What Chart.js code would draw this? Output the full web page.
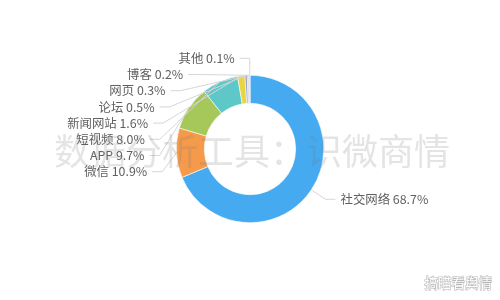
<!DOCTYPE html>
<html>
<head>
<meta charset="utf-8">
<script src="https://cdn.jsdelivr.net/npm/chart.js@4/dist/chart.umd.min.js"></script>
<style>
  html, body { margin: 0; padding: 0; background: #ffffff; }
  #wrap { width: 500px; height: 300px; position: relative; }
</style>
</head>
<body>
<div id="wrap"><canvas id="c" width="500" height="300"></canvas></div>
<script>
const categories = ['社交网络', '微信', 'APP', '短视频', '新闻网站', '论坛', '网页', '博客', '其他'];
const shares = [68.7, 10.9, 9.7, 8.0, 1.6, 0.5, 0.3, 0.2, 0.1];
const sliceColors = ['#45aaf0', '#f59a4a', '#a6c75a', '#5ec8c8', '#e9d444', '#8c9fd0', '#a8a8a8', '#f08080', '#e24a4a'];
const watermarkText = '数据分析工具：识微商情';
const cornerText = '搞瞄看舆情';

const FONT = '"Noto Sans CJK SC", "Noto Sans", sans-serif';

const labelPlugin = {
  id: 'pieLabels',
  afterDatasetsDraw(chart) {
    const ctx = chart.ctx;
    const meta = chart.getDatasetMeta(0);
    const len1 = 17, len2 = 10, gap = 5, lineH = 16.2;
    const items = [];
    meta.data.forEach((arc, i) => {
      const p = arc.getProps(['x', 'y', 'startAngle', 'endAngle', 'outerRadius'], true);
      const mid = (p.startAngle + p.endAngle) / 2;
      const c = Math.cos(mid), s = Math.sin(mid);
      const R = p.outerRadius + len1;
      items.push({
        i, cx: p.x, cy: p.y, R,
        px: p.x + c * p.outerRadius, py: p.y + s * p.outerRadius,
        ey: p.y + s * R, right: c >= 0
      });
    });
    ['left', 'right'].forEach(side => {
      const group = items.filter(it => (side === 'right') === it.right).sort((a, b) => a.ey - b.ey);
      for (let k = 1; k < group.length; k++) {
        if (group[k].ey < group[k - 1].ey + lineH) group[k].ey = group[k - 1].ey + lineH;
      }
    });
    ctx.save();
    ctx.font = '12.4px ' + FONT;
    ctx.textBaseline = 'middle';
    items.forEach(it => {
      const dy = it.ey - it.cy;
      const dx = Math.sqrt(Math.max(0, it.R * it.R - dy * dy));
      const ex = it.right ? it.cx + dx : it.cx - dx;
      const tx = it.right ? ex + len2 : ex - len2;
      ctx.strokeStyle = '#d6d6d6';
      ctx.lineWidth = 1;
      ctx.beginPath();
      ctx.moveTo(it.px, it.py);
      ctx.lineTo(ex, it.ey);
      ctx.lineTo(tx, it.ey);
      ctx.stroke();
      ctx.fillStyle = '#606060';
      ctx.textAlign = it.right ? 'left' : 'right';
      const label = categories[it.i] + ' ' + shares[it.i].toFixed(1) + '%';
      ctx.fillText(label, it.right ? tx + gap : tx - gap, it.ey);
    });
    ctx.restore();
  },
  afterDraw(chart) {
    const ctx = chart.ctx;
    ctx.save();
    ctx.font = '36px ' + FONT;
    ctx.textAlign = 'center';
    ctx.textBaseline = 'middle';
    ctx.fillStyle = 'rgba(120,120,120,0.2)';
    ctx.fillText(watermarkText, 252, 151);
    ctx.font = '13.5px ' + FONT;
    ctx.textAlign = 'right';
    ctx.lineWidth = 1.2;
    ctx.strokeStyle = 'rgba(160,160,160,0.75)';
    ctx.strokeText(cornerText, 492, 283);
    ctx.fillStyle = '#ffffff';
    ctx.fillText(cornerText, 492, 283);
    ctx.restore();
  }
};

new Chart(document.getElementById('c'), {
  type: 'doughnut',
  data: {
    labels: categories,
    datasets: [{
      data: shares,
      backgroundColor: sliceColors,
      borderColor: '#ffffff',
      borderWidth: 0.6
    }]
  },
  options: {
    responsive: false,
    animation: false,
    cutout: '62%',
    layout: { padding: { left: 176, right: 176, top: 75, bottom: 77 } },
    plugins: {
      legend: { display: false },
      tooltip: { enabled: false }
    }
  },
  plugins: [labelPlugin]
});
</script>
</body>
</html>
